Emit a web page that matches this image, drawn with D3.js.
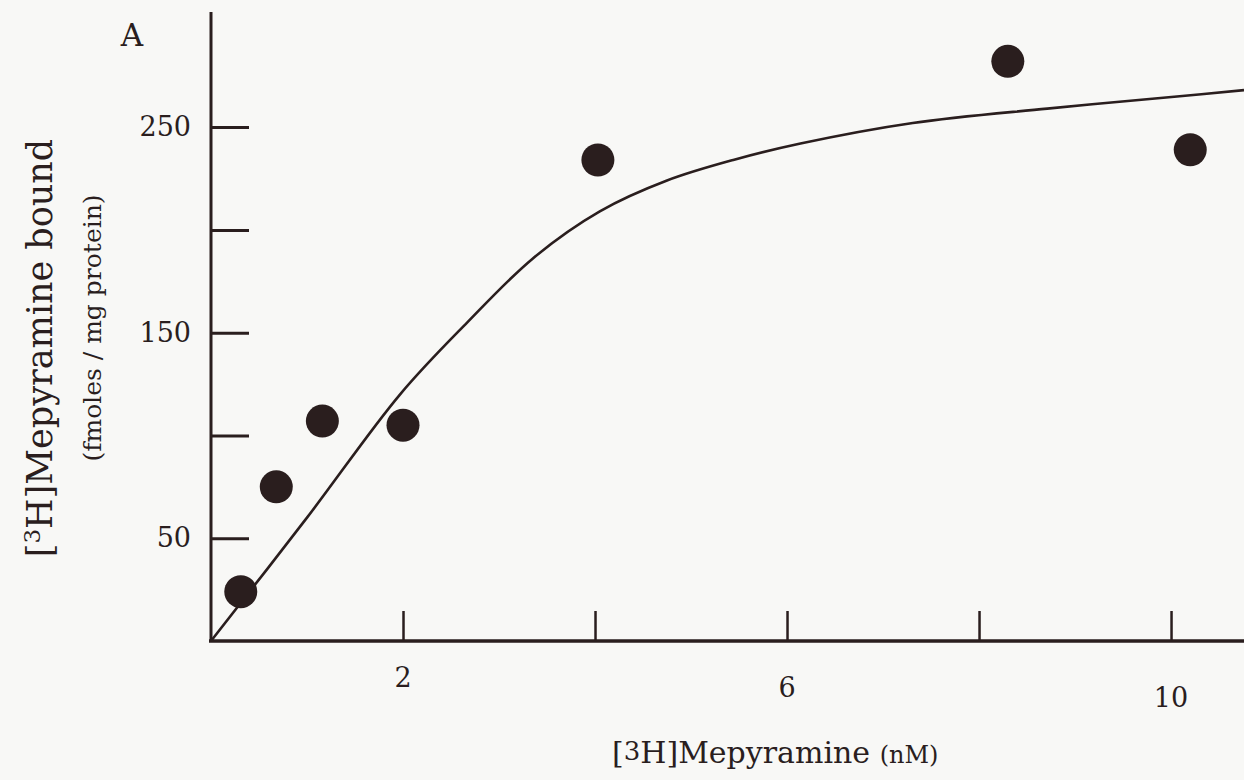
<!DOCTYPE html>
<html>
<head>
<meta charset="utf-8">
<script src="https://cdn.jsdelivr.net/npm/d3@7"></script>
<style>
  body { margin: 0; background: #f8f8f6; }
  text { font-family: "DejaVu Serif", "Liberation Serif", serif; fill: #2a1e1e; }
</style>
</head>
<body>
<script>
// binding data
const conc  = [0.31, 0.68, 1.16, 2.0, 4.03, 8.3, 10.2];     // nM
const bound = [24, 75, 107, 105, 234, 282, 239];             // fmoles / mg protein

// fitted curve as drawn
const fitX = [0, 1.0, 1.97, 2.67, 3.35, 4.05, 4.75, 5.44, 6.14, 7.31, 8.71, 10.09, 10.76];
const fitY = [0, 60, 120, 155, 186, 209, 224, 234, 242, 252, 259, 265, 268];

const yTicks = [50, 100, 150, 200, 250];
const yLabels = [50, 150, 250];
const xTicks = [2, 4, 6, 8, 10];
const xLabels = [2, 6, 10];

const w = 1244, h = 780, ink = "#2a1e1e";
const x0 = 211, y0 = 641;

const svg = d3.select("body").append("svg")
  .attr("width", w).attr("height", h);

const x = d3.scaleLinear().domain([0, 10.76]).range([x0, 1244]);
const y = d3.scaleLinear().domain([0, 306]).range([y0, 12]);

// y axis, ticks pointing inward
const yAxis = svg.append("g").attr("transform", `translate(${x0},0)`)
  .call(d3.axisRight(y).tickValues(yTicks).tickSize(38).tickFormat(""));
yAxis.select(".domain").remove();
yAxis.selectAll("line").attr("stroke", ink).attr("stroke-width", 3);
svg.append("line").attr("x1", x0).attr("x2", x0).attr("y1", 12).attr("y2", y0)
  .attr("stroke", ink).attr("stroke-width", 3);
svg.selectAll(".ylab").data(yLabels).enter().append("text")
  .attr("x", 191).attr("y", d => y(d) + 9)
  .attr("text-anchor", "end").attr("font-size", 27).text(d => d);

// x axis, ticks pointing up
const xAxis = svg.append("g").attr("transform", `translate(0,${y0})`)
  .call(d3.axisTop(x).tickValues(xTicks).tickSize(30).tickFormat(""));
xAxis.select(".domain").remove();
xAxis.selectAll("line").attr("stroke", ink).attr("stroke-width", 2.5);
svg.append("line").attr("x1", x0 - 2).attr("x2", w).attr("y1", y0).attr("y2", y0)
  .attr("stroke", ink).attr("stroke-width", 3.5);
svg.selectAll(".xlab").data(xLabels).enter().append("text")
  .attr("x", d => x(d)).attr("y", (d, i) => 687 + i * 10)
  .attr("text-anchor", "middle").attr("font-size", 27).text(d => d);

// curve
const line = d3.line().x(d => x(d[0])).y(d => y(d[1])).curve(d3.curveCatmullRom.alpha(0.5));
svg.append("path").datum(d3.zip(fitX, fitY))
  .attr("d", line).attr("fill", "none").attr("stroke", ink).attr("stroke-width", 2.6);

// points
svg.selectAll("circle").data(d3.zip(conc, bound)).enter().append("circle")
  .attr("cx", d => x(d[0])).attr("cy", d => y(d[1])).attr("r", 16.5)
  .attr("fill", ink);

// panel letter
svg.append("text").attr("x", 132).attr("y", 46).attr("text-anchor", "middle")
  .attr("font-size", 31).text("A");

// axis titles
const yt = svg.append("text").attr("transform", "translate(52,348) rotate(-90)")
  .attr("text-anchor", "middle").attr("font-size", 35);
yt.append("tspan").text("[");
yt.append("tspan").attr("font-size", 23).attr("dy", -12).text("3");
yt.append("tspan").attr("dy", 12).text("H]Mepyramine bound");

svg.append("text").attr("transform", "translate(101,328) rotate(-90)")
  .attr("text-anchor", "middle").attr("font-size", 25).text("(fmoles / mg protein)");

const xt = svg.append("text").attr("x", 612).attr("y", 763)
  .attr("text-anchor", "start").attr("font-size", 30);
xt.append("tspan").text("[");
xt.append("tspan").attr("font-size", 26).attr("dy", -3).text("3");
xt.append("tspan").attr("dy", 3).text("H]Mepyramine ");
xt.append("tspan").attr("font-size", 24).text("(nM)");
</script>
</body>
</html>
